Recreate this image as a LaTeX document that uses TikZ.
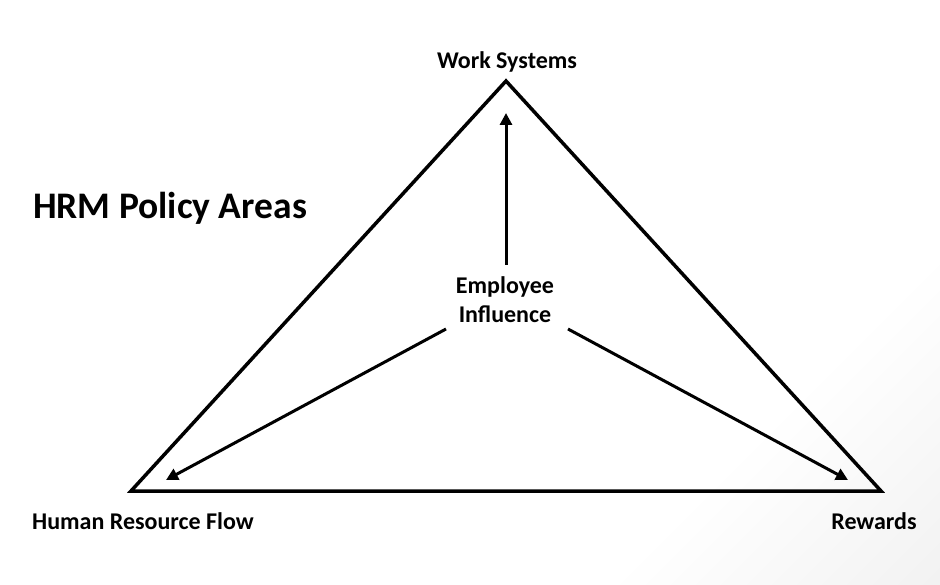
\documentclass[tikz,border=0pt]{standalone}
\usepackage{fontspec}
\setmainfont{Carlito}
\usetikzlibrary{arrows.meta}
\pgfdeclarehorizontalshading{bgshade}{100bp}{color(0bp)=(white); color(70bp)=(white); color(100bp)=(black!10)}
\tikzset{
  edge/.style={line width=3.5pt, line join=miter},
  arr/.style={line width=3pt, -{Triangle[length=12pt,width=12pt]}},
  lbl/.style={font=\bfseries\fontsize{24}{28}\selectfont, anchor=base, inner sep=0pt},
}
\begin{document}
\begin{tikzpicture}[x=1pt,y=-1pt]
\useasboundingbox (0,0) rectangle (940,585);
\shade[shading=bgshade, shading angle=-45] (0,0) rectangle (940,585);
\coordinate (T) at (506,81);
\coordinate (L) at (131,491);
\coordinate (R) at (881,491);
\draw[edge] (T) -- (L) -- (R) -- cycle;
\node[lbl] (ws) at (507,69) {Work Systems};
\node[lbl] (hrf) at (143,529) {Human Resource Flow};
\node[lbl] (rew) at (874,529) {Rewards};
\node[font=\bfseries\fontsize{37.5}{42}\selectfont, anchor=base, inner sep=0pt] (title) at (170,219) {HRM Policy Areas};
\node[font=\bfseries\fontsize{24}{29}\selectfont, align=center, inner sep=0pt] (emp) at (505,300) {Employee\\Influence};
\coordinate (s1) at (506,265);
\coordinate (t1) at (506,113);
\coordinate (s2) at (446,329);
\coordinate (t2) at (166,480);
\coordinate (s3) at (568,329);
\coordinate (t3) at (848,480);
\draw[arr] (s1) -- (t1);
\draw[arr] (s2) -- (t2);
\draw[arr] (s3) -- (t3);
\end{tikzpicture}
\end{document}
